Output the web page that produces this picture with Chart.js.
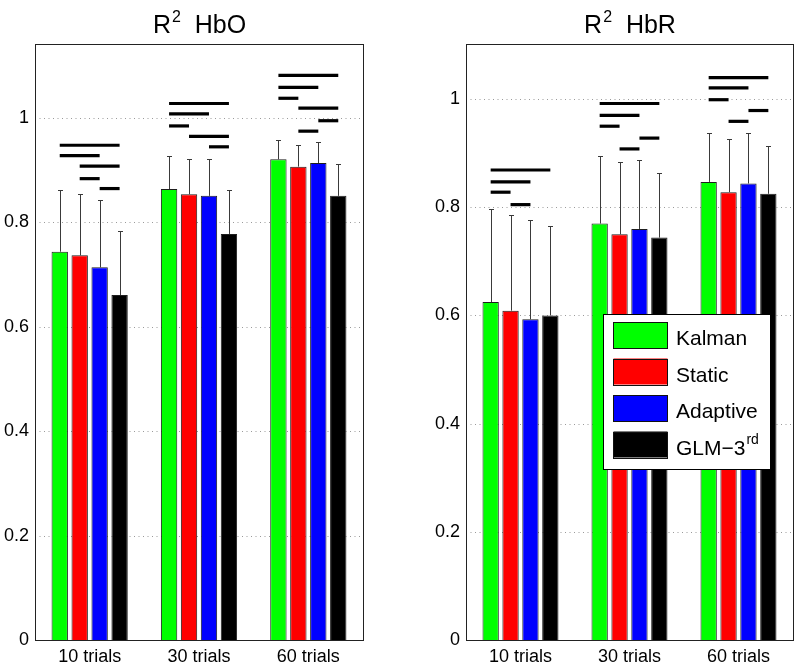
<!DOCTYPE html>
<html><head><meta charset="utf-8">
<script src="https://cdn.jsdelivr.net/npm/chart.js@4/dist/chart.umd.min.js"></script>
<style>
html,body{margin:0;padding:0;background:#fff;}
#wrap{position:relative;width:800px;height:668px;overflow:hidden;}
canvas{position:absolute;top:0;}
</style></head><body>
<div id="wrap">
<canvas id="c1" width="400" height="668" style="left:0;width:400px;height:668px"></canvas>
<canvas id="c2" width="400" height="668" style="left:400px;width:400px;height:668px"></canvas>
</div>
<script>
// ---- data ----
const categories = ['10 trials', '30 trials', '60 trials'];
const seriesNames = ['Kalman', 'Static', 'Adaptive', 'GLM−3rd'];
const legendMain = ['Kalman', 'Static', 'Adaptive', 'GLM−3'];
const legendSup = ['', '', '', 'rd'];
const seriesColors = ['#00ff00', '#ff0000', '#0000ff', '#000000'];
const yTicks = [0, 0.2, 0.4, 0.6, 0.8, 1];

// HbO means and (upper) standard deviations
const hboKalman = [0.744, 0.864, 0.921];
const hboStatic = [0.737, 0.854, 0.907];
const hboAdaptive = [0.714, 0.851, 0.914];
const hboGLM = [0.661, 0.778, 0.851];
const hboKalmanSd = [0.118, 0.064, 0.037];
const hboStaticSd = [0.117, 0.067, 0.041];
const hboAdaptiveSd = [0.130, 0.070, 0.041];
const hboGLMSd = [0.123, 0.084, 0.061];
// significance bars: [category, fromSeries, toSeries, yValue]
const hboSig = [
  [0,0,3,0.948],[0,0,2,0.928],[0,1,3,0.908],[0,1,2,0.884],[0,2,3,0.865],
  [1,0,3,1.028],[1,0,2,1.008],[1,0,1,0.985],[1,1,3,0.965],[1,2,3,0.945],
  [2,0,3,1.082],[2,0,2,1.059],[2,0,1,1.038],[2,1,3,1.019],[2,2,3,0.995],[2,1,2,0.975]
];

// HbR
const hbrKalman = [0.625, 0.770, 0.847];
const hbrStatic = [0.609, 0.750, 0.828];
const hbrAdaptive = [0.593, 0.760, 0.844];
const hbrGLM = [0.600, 0.744, 0.825];
const hbrKalmanSd = [0.171, 0.125, 0.091];
const hbrStaticSd = [0.177, 0.133, 0.099];
const hbrAdaptiveSd = [0.183, 0.128, 0.094];
const hbrGLMSd = [0.166, 0.119, 0.089];
const hbrSig = [
  [0,0,3,0.869],[0,0,2,0.847],[0,0,1,0.828],[0,1,2,0.805],
  [1,0,3,0.992],[1,0,2,0.970],[1,0,1,0.950],[1,2,3,0.928],[1,1,2,0.908],
  [2,0,3,1.040],[2,0,2,1.021],[2,0,1,0.999],[2,2,3,0.979],[2,1,2,0.959]
];

const FONT = '"Liberation Sans", Arial, Helvetica, sans-serif';

function makeChart(id, values, sds, sig, ymax, axisW, padRight, titleName, showLegend) {
  const panelPlugin = {
    id: 'panel' + id,
    beforeDatasetsDraw(chart) {
      const ctx = chart.ctx, a = chart.chartArea, y = chart.scales.y;
      ctx.save();
      ctx.strokeStyle = '#9a9a9a';
      ctx.lineWidth = 1;
      ctx.setLineDash([1, 3.5]);
      yTicks.forEach(v => {
        if (v === 0) return;
        const py = Math.round(y.getPixelForValue(v)) + 0.5;
        ctx.beginPath(); ctx.moveTo(a.left, py); ctx.lineTo(a.right, py); ctx.stroke();
      });
      ctx.restore();
    },
    afterDatasetsDraw(chart) {
      const ctx = chart.ctx, a = chart.chartArea, y = chart.scales.y;
      ctx.save();
      // error bars
      ctx.strokeStyle = '#3a3a3a';
      ctx.lineWidth = 1;
      values.forEach((series, d) => {
        const meta = chart.getDatasetMeta(d);
        series.forEach((v, c) => {
          const px = Math.round(meta.data[c].x) + 0.5;
          const y0 = y.getPixelForValue(v);
          const y1 = Math.round(y.getPixelForValue(v + sds[d][c])) + 0.5;
          ctx.beginPath();
          ctx.moveTo(px, y0); ctx.lineTo(px, y1);
          ctx.moveTo(px - 2.5, y1); ctx.lineTo(px + 2.5, y1);
          ctx.stroke();
        });
      });
      // significance bars
      ctx.strokeStyle = '#000';
      ctx.lineWidth = 3.2;
      sig.forEach(s => {
        const x0 = chart.getDatasetMeta(s[1]).data[s[0]].x;
        const x1 = chart.getDatasetMeta(s[2]).data[s[0]].x;
        const py = y.getPixelForValue(s[3]);
        ctx.beginPath(); ctx.moveTo(x0, py); ctx.lineTo(x1, py); ctx.stroke();
      });
      // frame
      ctx.strokeStyle = '#222';
      ctx.lineWidth = 1;
      ctx.strokeRect(Math.round(a.left) + 0.5, Math.round(a.top) + 0.5,
                     Math.round(a.right - a.left), Math.round(a.bottom - a.top));
      // title  R^2  name
      const cx = (a.left + a.right) / 2;
      ctx.fillStyle = '#000';
      ctx.textBaseline = 'alphabetic';
      ctx.textAlign = 'left';
      const big = '25px ' + FONT, small = '16px ' + FONT;
      ctx.font = big; const wR = ctx.measureText('R').width;
      const wRest = ctx.measureText('  ' + titleName).width;
      ctx.font = small; const w2 = ctx.measureText('2').width;
      let tx = cx - (wR + w2 + wRest) / 2;
      ctx.font = big; ctx.fillText('R', tx, 33); tx += wR + 1;
      ctx.font = small; ctx.fillText('2', tx, 22); tx += w2;
      ctx.font = big; ctx.fillText('  ' + titleName, tx, 33);
      // legend
      if (showLegend) {
        const lx = 203.5, ly = 314.5, lw = 167, lh = 155;
        ctx.fillStyle = '#fff';
        ctx.fillRect(lx, ly, lw, lh);
        ctx.strokeStyle = '#000';
        ctx.lineWidth = 1;
        ctx.strokeRect(lx, ly, lw, lh);
        for (let i = 0; i < 4; i++) {
          const sy = 322 + i * 36.5;
          ctx.fillStyle = seriesColors[i];
          ctx.fillRect(213.5, sy, 54, 26);
          ctx.strokeStyle = '#111';
          ctx.strokeRect(213.5, Math.round(sy) + 0.5, 54, 26);
          ctx.fillStyle = '#000';
          ctx.font = '21px ' + FONT;
          ctx.fillText(legendMain[i], 276, sy + 23);
          if (legendSup[i]) {
            const w = ctx.measureText(legendMain[i]).width;
            ctx.font = '14px ' + FONT;
            ctx.fillText(legendSup[i], 276 + w + 1, sy + 12);
          }
        }
      }
      ctx.restore();
    }
  };

  return new Chart(document.getElementById(id), {
    type: 'bar',
    data: {
      labels: categories,
      datasets: values.map((v, i) => ({
        label: seriesNames[i],
        data: v,
        backgroundColor: seriesColors[i],
        borderColor: '#1e1e1e',
        borderWidth: 1,
        categoryPercentage: 0.73,
        barPercentage: 0.82
      }))
    },
    options: {
      responsive: false,
      animation: false,
      devicePixelRatio: 1,
      layout: { padding: { top: 44, right: padRight, left: 0, bottom: 0 } },
      plugins: { legend: { display: false }, title: { display: false }, tooltip: { enabled: false } },
      scales: {
        x: {
          type: 'category',
          grid: { display: false, drawTicks: false },
          border: { display: false },
          ticks: { color: '#000', font: { family: FONT, size: 18 }, padding: 6, maxRotation: 0 },
          afterFit(s) { s.height = 28; }
        },
        y: {
          min: 0, max: ymax,
          grid: { display: false, drawTicks: false },
          border: { display: false },
          ticks: {
            stepSize: 0.2, includeBounds: false, color: '#000',
            font: { family: FONT, size: 18 }, padding: 6,
            callback: v => { const r = Math.round(v * 10) / 10; return yTicks.includes(r) ? String(r) : ''; }
          },
          afterFit(s) { s.width = axisW; }
        }
      }
    },
    plugins: [panelPlugin]
  });
}

makeChart('c1', [hboKalman, hboStatic, hboAdaptive, hboGLM],
  [hboKalmanSd, hboStaticSd, hboAdaptiveSd, hboGLMSd], hboSig, 1.142, 35, 37, 'HbO', false);
makeChart('c2', [hbrKalman, hbrStatic, hbrAdaptive, hbrGLM],
  [hbrKalmanSd, hbrStaticSd, hbrAdaptiveSd, hbrGLMSd], hbrSig, 1.102, 66, 7, 'HbR', true);
</script>
</body></html>
